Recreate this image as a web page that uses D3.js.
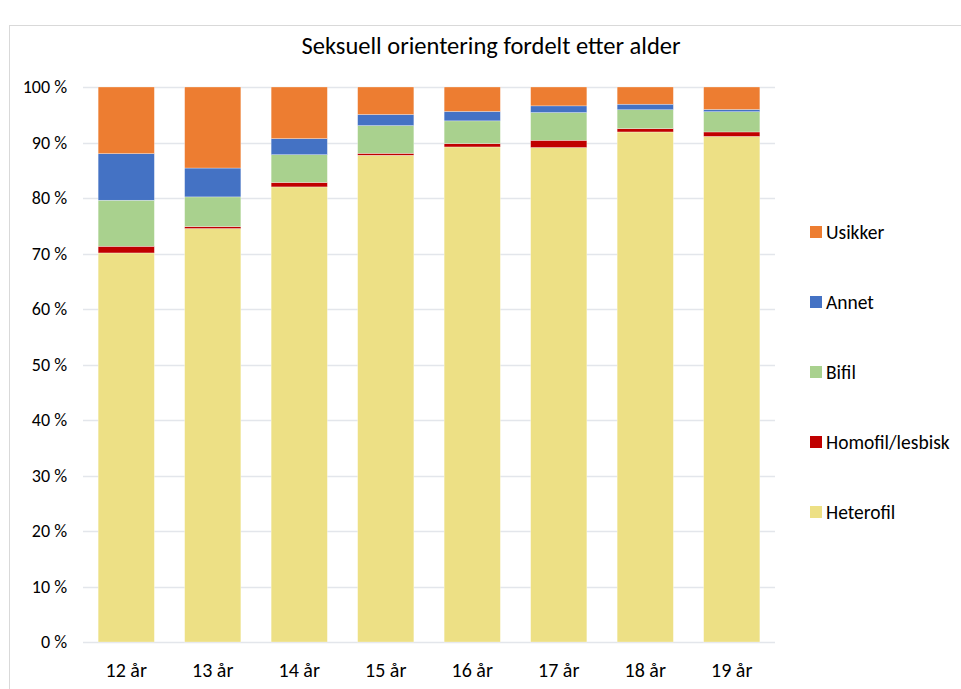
<!DOCTYPE html>
<html>
<head>
<meta charset="utf-8">
<script src="https://cdn.jsdelivr.net/npm/d3@7"></script>
<style>
  html, body { margin: 0; padding: 0; background: #fff; }
  svg { display: block; font-family: Carlito, Lato, "Open Sans", sans-serif; }
</style>
</head>
<body>
<svg id="chart" width="961" height="689"></svg>
<script>
// Age groups along the x axis
const ages = ["12 år", "13 år", "14 år", "15 år", "16 år", "17 år", "18 år", "19 år"];

// Share (%) per age group, one array per answer
const heterofil = [70.1, 74.5, 82.0, 87.7, 89.2, 89.1, 91.9, 91.1];
const homofil   = [1.2, 0.35, 0.8, 0.35, 0.6, 1.3, 0.6, 0.8];
const bifil     = [8.3, 5.35, 5.0, 5.0, 4.1, 5.0, 3.4, 3.65];
const annet     = [8.4, 5.2, 2.9, 2.0, 1.7, 1.2, 1.0, 0.4];
const usikker   = [12.0, 14.6, 9.3, 4.95, 4.4, 3.4, 3.1, 4.05];

const seriesNames = ["Heterofil", "Homofil/lesbisk", "Bifil", "Annet", "Usikker"];
const seriesValues = [heterofil, homofil, bifil, annet, usikker];
const colors = ["#EDE085", "#C00000", "#A9D18E", "#4472C4", "#ED7D31"];

const yTicks = [0, 10, 20, 30, 40, 50, 60, 70, 80, 90, 100];

const title = "Seksuell orientering fordelt etter alder";

const svg = d3.select("#chart");

// Outer chart frame
svg.append("rect")
  .attr("x", 9.5).attr("y", 25.5)
  .attr("width", 960).attr("height", 700)
  .attr("fill", "#fff")
  .attr("stroke", "#D9D9D9").attr("stroke-width", 1);

const plot = { left: 83, right: 775, top: 87, bottom: 642 };

const x = d3.scaleBand()
  .domain(ages)
  .range([plot.left, plot.right])
  .paddingInner(0.35)
  .paddingOuter(0.175);

const y = d3.scaleLinear()
  .domain([0, 100])
  .range([plot.bottom, plot.top]);

// Gridlines
svg.append("g")
  .selectAll("line")
  .data(yTicks)
  .join("line")
  .attr("x1", plot.left).attr("x2", plot.right)
  .attr("y1", d => Math.round(y(d)) + 0.5)
  .attr("y2", d => Math.round(y(d)) + 0.5)
  .attr("stroke", "#E3E6EB").attr("stroke-width", 1.5);

// Stack the series
const table = ages.map((a, i) => {
  const row = { age: a };
  seriesNames.forEach((s, k) => { row[s] = seriesValues[k][i]; });
  return row;
});
const stack = d3.stack().keys(seriesNames)(table);

svg.append("g")
  .selectAll("g")
  .data(stack)
  .join("g")
  .attr("fill", (d, k) => colors[k])
  .selectAll("rect")
  .data(d => d)
  .join("rect")
  .attr("x", d => x(d.data.age))
  .attr("width", x.bandwidth())
  .attr("y", d => y(d[1]))
  .attr("height", d => y(d[0]) - y(d[1]))
  .attr("stroke", "#fff").attr("stroke-width", 0.5).attr("stroke-opacity", 0.6);

// Y axis labels
const yAxis = d3.axisLeft(y)
  .tickValues(yTicks)
  .tickFormat(d => d + " %")
  .tickSize(0)
  .tickPadding(16);
const gy = svg.append("g")
  .attr("transform", `translate(${plot.left},0)`)
  .call(yAxis);
gy.select(".domain").remove();
gy.selectAll("text")
  .attr("font-size", 18)
  .attr("font-family", "Carlito, Lato, sans-serif")
  .attr("fill", "#000");

// X axis labels
const xAxis = d3.axisBottom(x).tickSize(0);
const gx = svg.append("g")
  .attr("transform", `translate(0,${plot.bottom})`)
  .call(xAxis);
gx.select(".domain").remove();
gx.selectAll("text")
  .attr("y", 35)
  .attr("dy", "0")
  .attr("font-size", 20)
  .attr("font-family", "Carlito, Lato, sans-serif")
  .attr("fill", "#000");

// Title
svg.append("text")
  .attr("x", 491).attr("y", 54)
  .attr("text-anchor", "middle")
  .attr("font-size", 24.5)
  .attr("fill", "#000")
  .text(title);

// Legend, top entry is the top of the stack
const legendItems = seriesNames.map((s, k) => ({ name: s, color: colors[k] })).reverse();
const lg = svg.append("g")
  .selectAll("g")
  .data(legendItems)
  .join("g")
  .attr("transform", (d, i) => `translate(810,${232 + i * 70})`);
lg.append("rect")
  .attr("x", 0).attr("y", -6)
  .attr("width", 12).attr("height", 12)
  .attr("fill", d => d.color);
lg.append("text")
  .attr("x", 16).attr("y", 0)
  .attr("dy", "0.35em")
  .attr("font-size", 19.5)
  .attr("fill", "#000")
  .text(d => d.name);
</script>
</body>
</html>
